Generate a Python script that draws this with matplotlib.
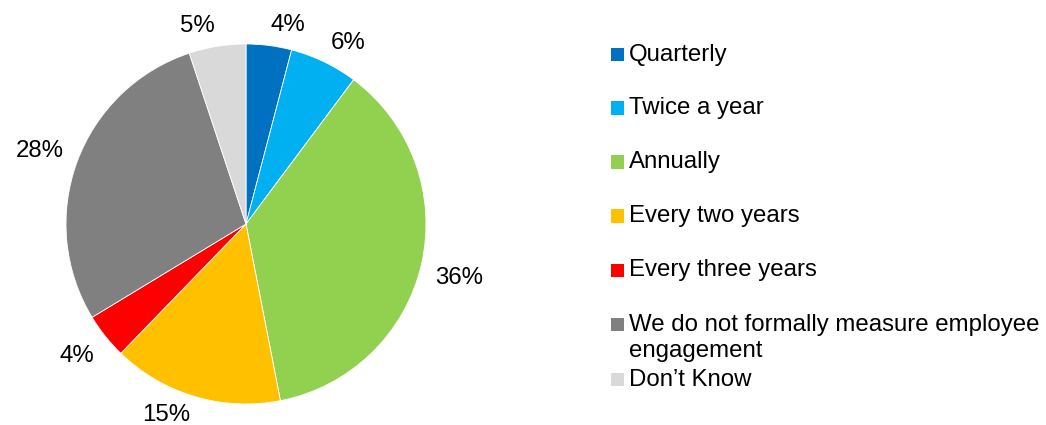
import numpy as np
import matplotlib.pyplot as plt
from matplotlib.patches import Rectangle

plt.rcParams['font.family'] = ['Liberation Sans', 'DejaVu Sans']

categories = ['Quarterly', 'Twice a year', 'Annually', 'Every two years',
              'Every three years', 'We do not formally measure employee\nengagement',
              'Don\u2019t Know']
shares = [4, 6, 36, 15, 4, 28, 5]
colors = ['#0070C0', '#00B0F0', '#92D050', '#FFC000', '#FF0000', '#808080', '#D9D9D9']

W, H = 1046, 425
FS = 17.3
fig = plt.figure(figsize=(W / 100, H / 100), dpi=100)

# pie: centre at (246, 224) px from the top-left, radius 180 px
cx, cy, r = 246, 224, 180
ax = fig.add_axes([(cx - r) / W, (H - cy - r) / H, 2 * r / W, 2 * r / H])
wedges, _ = ax.pie(shares, colors=colors, startangle=90, counterclock=False,
                   wedgeprops=dict(edgecolor='white', linewidth=0.6))
ax.set_xlim(-1, 1)
ax.set_ylim(-1, 1)
ax.set_aspect('equal')

# percentage labels: the corner nearest the pie sits on a ring just outside the rim
cap = 0.716 * FS * 100 / 72 / r       # digit height in data units
y_floor = -(H - cy) / r + 0.02          # lowest baseline that stays on the canvas
for w, v in zip(wedges, shares):
    ang = np.deg2rad((w.theta1 + w.theta2) / 2)
    c, s = np.cos(ang), np.sin(ang)
    ha = 'left' if c > 0 else 'right'
    y = 1.08 * s if s > 0 else max(1.08 * s - cap, y_floor)
    ax.text(1.08 * c, y, f'{v}%', fontsize=FS, ha=ha, va='baseline')

# legend drawn by hand, square markers and left-aligned text
sq = 13
ys = [54.5, 108, 162, 216, 270, 338, 379.5]
sq_ys = [54.5, 108, 162, 216, 270, 324, 379.5]
for lab, col, ty, sy in zip(categories, colors, ys, sq_ys):
    fig.add_artist(Rectangle((611 / W, (H - sy - sq / 2) / H), sq / W, sq / H,
                             transform=fig.transFigure, facecolor=col,
                             edgecolor='none'))
    fig.text(629 / W, (H - ty) / H, lab, fontsize=FS, ha='left', va='center',
             linespacing=1.2)

fig.savefig('out.png', dpi=100)
